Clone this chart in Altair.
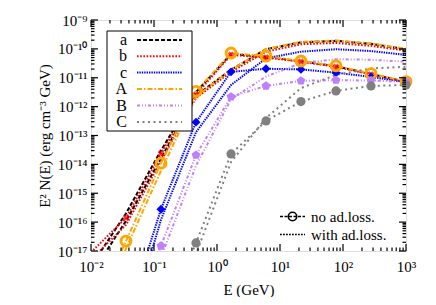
import altair as alt
import pandas as pd

FONT = "Liberation Serif"

# ---------------- data ----------------
E = [0.01, 0.0359, 0.129, 0.464, 1.67, 5.99, 21.5, 77.4, 278, 1000]
series = ["a", "b", "c", "A", "B", "C"]

no_ad = {
    "a": [3e-18, 2.0e-16, 3.0e-14, 3.2e-12, 6.6e-11, 5.3e-11, 3.7e-11, 2.5e-11, 1.35e-11, 7.2e-12],
    "b": [9e-18, 1.4e-16, 2.4e-14, 2.6e-12, 6.2e-11, 5.0e-11, 3.6e-11, 2.4e-11, 1.3e-11, 7.0e-12],
    "c": [1e-23, 4e-20, 2.8e-16, 2.9e-13, 1.6e-11, 2.05e-11, 1.95e-11, 1.5e-11, 1.07e-11, 7.0e-12],
    "A": [5e-20, 2.2e-17, 1.1e-14, 3.4e-12, 7.2e-11, 5.6e-11, 3.8e-11, 2.6e-11, 1.4e-11, 7.4e-12],
    "B": [1e-25, 1.1e-20, 1.5e-17, 2.1e-14, 2.2e-12, 5.2e-12, 7.8e-12, 8.3e-12, 8.0e-12, 7.3e-12],
    "C": [1e-27, 1e-23, 1.6e-20, 1.9e-17, 2.3e-14, 3.2e-13, 1.5e-12, 3.5e-12, 5.2e-12, 5.6e-12],
}
with_ad = {
    "a": [1.5e-18, 1.1e-16, 1.6e-14, 2.4e-12, 1.9e-11, 9.7e-11, 1.7e-10, 1.9e-10, 1.5e-10, 9.7e-11],
    "b": [5e-18, 8e-17, 1.3e-14, 2.0e-12, 1.6e-11, 8.0e-11, 1.45e-10, 1.6e-10, 1.27e-10, 8.7e-11],
    "c": [1e-24, 1e-20, 1.2e-16, 1.3e-13, 5.6e-12, 4.7e-11, 8.0e-11, 9.7e-11, 8.4e-11, 6.2e-11],
    "A": [2e-20, 1.2e-17, 6e-15, 2.2e-12, 1.9e-11, 1.0e-10, 1.75e-10, 1.95e-10, 1.55e-10, 1.0e-10],
    "B": [1e-26, 4e-21, 6e-18, 9e-15, 1.8e-12, 1.1e-11, 3.2e-11, 4.4e-11, 4.2e-11, 3.6e-11],
    "C": [1e-28, 1e-24, 6e-21, 8e-18, 1.2e-14, 4.0e-13, 4.4e-12, 1.25e-11, 2.1e-11, 2.4e-11],
}

x_major = [0.01, 0.1, 1, 10, 100, 1000]
y_major = [1e-17, 1e-16, 1e-15, 1e-14, 1e-13, 1e-12, 1e-11, 1e-10, 1e-9]
x_minor = [k * m for m in x_major[:-1] for k in range(2, 10)]
y_minor = [k * m for m in y_major[:-1] for k in range(2, 10)]

# ---------------- styles ----------------
colors = {"a": "#000000", "b": "#ff0000", "c": "#0000ff",
          "A": "#ffa500", "B": "#bf80ff", "C": "#808080"}
dashes = {"a": [4, 2], "b": [1.6, 1.6], "c": [1.4, 1.0],
          "A": [5, 2, 1.5, 2], "B": [3, 2, 1, 2, 1, 2], "C": [2, 3.5]}
PENTAGON = "M0,-1L0.951,-0.309L0.588,0.809L-0.588,0.809L-0.951,-0.309Z"

W, H = 315, 231

sup = str.maketrans("-0123456789", "⁻⁰¹²³⁴⁵⁶⁷⁸⁹")


def label_expr(exps):
    expr = "''"
    for e in exps:
        expr = f"round(log(datum.value)/LN10) == {e} ? '10{str(e).translate(sup)}' : ({expr})"
    return expr


xs = alt.Scale(type="log", domain=[0.01, 1000], nice=False)
ys = alt.Scale(type="log", domain=[1e-17, 1e-9], nice=False)
xaxis = alt.Axis(values=x_major, labelExpr=label_expr(range(-2, 4)), ticks=False, domain=False,
                 grid=False, labelFont=FONT, labelFontSize=15, labelColor="black", labelPadding=8,
                 titleFont=FONT, titleFontSize=15, titleFontWeight="normal", titleColor="black",
                 titlePadding=8, labelFlush=False)
yaxis = alt.Axis(values=y_major, labelExpr=label_expr(range(-17, -8)), ticks=False, domain=False,
                 grid=False, labelFont=FONT, labelFontSize=15, labelColor="black", labelPadding=4,
                 titleFont=FONT, titleFontSize=15, titleFontWeight="normal", titleColor="black",
                 titlePadding=5, labelFlush=False)
XT = "E (GeV)"
YT = "E² N(E) (erg cm⁻³ GeV)"


def X(f):
    return alt.X(f, scale=xs, axis=xaxis, title=XT)


def Y(f):
    return alt.Y(f, scale=ys, axis=yaxis, title=YT)


layers = []

# lines
for s in series:
    rows = []
    for e, v1, v2 in zip(E, no_ad[s], with_ad[s]):
        rows.append({"E": e, "v": v1, "case": "no"})
        rows.append({"E": e, "v": v2, "case": "with"})
    df = pd.DataFrame(rows)
    layers.append(alt.Chart(df).mark_line(color=colors[s], strokeDash=dashes[s], strokeWidth=2.0,
                                          clip=True)
                  .encode(x=X("E:Q"), y=Y("v:Q"), detail="case:N"))

# markers (no ad.loss)
marker_style = {
    "b": dict(shape="cross", angle=45, filled=True, color="#ff0000", size=45),
    "c": dict(shape="diamond", filled=True, color="#0000ff", size=80, opacity=1),
    "A": dict(shape="circle", filled=False, color="#ffa500", size=100, strokeWidth=2.8, opacity=1),
    "B": dict(shape=PENTAGON, filled=True, color="#bf80ff", size=85, opacity=1),
    "C": dict(shape="circle", filled=True, color="#808080", size=85, opacity=1),
}
for s in ["b", "c", "A", "B", "C"]:
    pts = [{"E": e, "v": v} for e, v in zip(E, no_ad[s]) if 1e-17 <= v <= 1e-9]
    layers.append(alt.Chart(pd.DataFrame(pts)).mark_point(**marker_style[s])
                  .encode(x=X("E:Q"), y=Y("v:Q")))

one = pd.DataFrame({"k": [0]})

# legend box (top left)
layers.append(alt.Chart(one).mark_rect(fill="white", stroke="black", strokeWidth=1)
              .encode(x=alt.value(16), x2=alt.value(101), y=alt.value(11), y2=alt.value(111)))
rows_y = [20, 36.3, 52.6, 69, 85.5, 102]
for s, yy in zip(series, rows_y):
    layers.append(alt.Chart(one).mark_text(align="right", baseline="middle", font=FONT, fontSize=16,
                                           color="black")
                  .encode(x=alt.value(36), y=alt.value(yy), text=alt.value(s)))
    layers.append(alt.Chart(one).mark_rule(color=colors[s], strokeDash=dashes[s], strokeWidth=2.0)
                  .encode(x=alt.value(46), x2=alt.value(91), y=alt.value(yy)))

# legend (bottom right)
layers.append(alt.Chart(one).mark_rule(color="black", strokeDash=[3, 1.5], strokeWidth=1.6)
              .encode(x=alt.value(189), x2=alt.value(214), y=alt.value(196.5)))
layers.append(alt.Chart(one).mark_point(shape="circle", filled=False, color="black", size=70,
                                        strokeWidth=1.6, opacity=1)
              .encode(x=alt.value(201.5), y=alt.value(196.5)))
layers.append(alt.Chart(one).mark_rule(color="black", strokeDash=[1.8, 1.2], strokeWidth=1.6)
              .encode(x=alt.value(189), x2=alt.value(214), y=alt.value(214.5)))
for txt, yy in [("no ad.loss.", 196.5), ("with ad.loss.", 214.5)]:
    layers.append(alt.Chart(one).mark_text(align="left", baseline="middle", font=FONT, fontSize=15,
                                           color="black")
                  .encode(x=alt.value(220), y=alt.value(yy), text=alt.value(txt)))

# inward ticks on all four sides
MAJ, MIN = 7, 3.5
for vals, ln in [(x_major, MAJ), (x_minor, MIN)]:
    d = pd.DataFrame({"t": vals})
    layers.append(alt.Chart(d).mark_rule(color="black", strokeWidth=1.2)
                  .encode(x=X("t:Q"), y=alt.value(H), y2=alt.value(H - ln)))
    layers.append(alt.Chart(d).mark_rule(color="black", strokeWidth=1.2)
                  .encode(x=X("t:Q"), y=alt.value(0), y2=alt.value(ln)))
for vals, ln in [(y_major, MAJ), (y_minor, MIN)]:
    d = pd.DataFrame({"t": vals})
    layers.append(alt.Chart(d).mark_rule(color="black", strokeWidth=1.2)
                  .encode(y=Y("t:Q"), x=alt.value(0), x2=alt.value(ln)))
    layers.append(alt.Chart(d).mark_rule(color="black", strokeWidth=1.2)
                  .encode(y=Y("t:Q"), x=alt.value(W), x2=alt.value(W - ln)))

chart = (alt.layer(*layers)
         .properties(width=W, height=H,
                     padding={"left": 83, "top": 12, "right": 22, "bottom": 46},
                     autosize=alt.AutoSizeParams(type="none"))
         .configure_view(stroke="black", strokeWidth=1.6)
         .configure(background="white"))

chart.save("out.html", embed_options={"renderer": "svg", "actions": False})
